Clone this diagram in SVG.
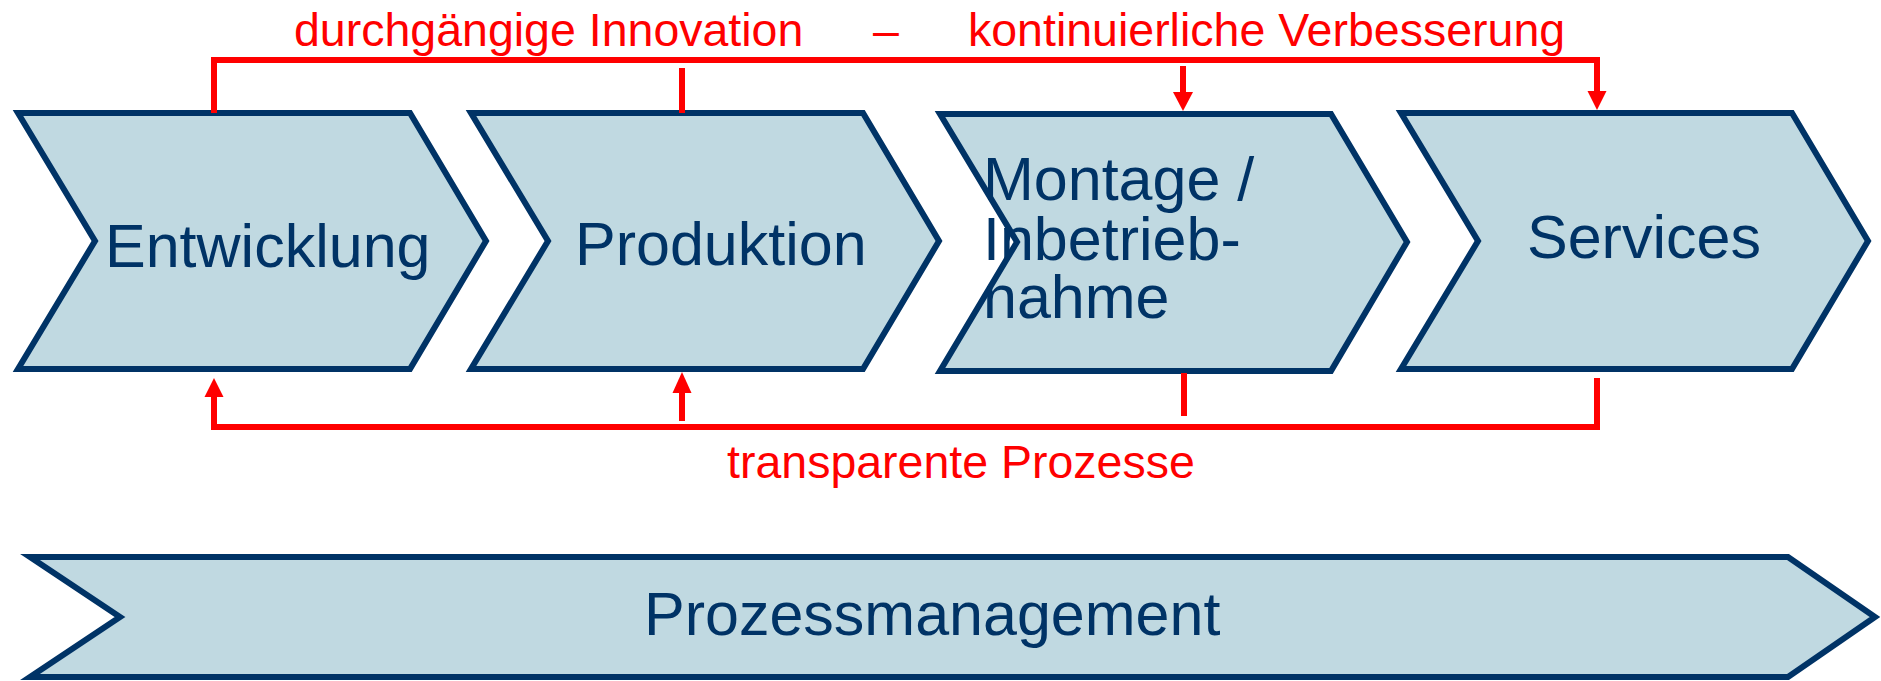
<svg xmlns="http://www.w3.org/2000/svg" width="1881" height="681" viewBox="0 0 1881 681">
<style>
.chev{fill:#c0d9e1;stroke:#003366;stroke-width:6;stroke-linejoin:miter}
.lbl{font-family:"Liberation Sans",Arial,sans-serif;font-size:61px;fill:#003366}
.red{font-family:"Liberation Sans",Arial,sans-serif;font-size:46.5px;fill:#ff0000}
.ln{fill:none;stroke:#ff0000;stroke-width:6;stroke-linecap:butt;stroke-linejoin:miter}
.ah{fill:#ff0000}
</style>
<rect width="1881" height="681" fill="#ffffff"/>
<g id="entwicklung">
<polygon class="chev" points="18,113 410,113 486,241 410,369 18,369 95,241"/>
<text class="lbl" x="105" y="267">Entwicklung</text>
</g>
<g id="produktion">
<polygon class="chev" points="471,113 863,113 939,241 863,369 471,369 548,241"/>
<text class="lbl" x="575" y="265">Produktion</text>
</g>
<g id="montage">
<polygon class="chev" points="940,114 1331,114 1407,242 1331,371 940,371 1017,242"/>
<text class="lbl" x="983" y="200">Montage /</text>
<text class="lbl" x="983" y="260">Inbetrieb-</text>
<text class="lbl" x="983" y="318">nahme</text>
</g>
<g id="services">
<polygon class="chev" points="1401,113 1792,113 1868,241 1792,369 1401,369 1478,241"/>
<text class="lbl" x="1527" y="258">Services</text>
</g>
<g id="prozessmanagement">
<polygon class="chev" points="30,557 1788,557 1875,617 1788,677 30,677 120,617"/>
<text class="lbl" x="644" y="635">Prozessmanagement</text>
</g>
<g id="labels">
<text class="red" x="294" y="46">durchgängige Innovation</text>
<text class="red" x="873" y="46">–</text>
<text class="red" x="968" y="46">kontinuierliche Verbesserung</text>
<text class="red" x="727" y="478">transparente Prozesse</text>
</g>
<g id="connectors">
<path class="ln" d="M214,113 V60 H1597 V93"/>
<polygon class="ah" points="1587.5,91 1606.5,91 1597,110"/>
<path class="ln" d="M682,68 V113"/>
<path class="ln" d="M1183,66 V94"/>
<polygon class="ah" points="1173,92 1193,92 1183,111"/>
<path class="ln" d="M1597,378 V427 H214 V395"/>
<polygon class="ah" points="204.5,397 223.5,397 214,378"/>
<path class="ln" d="M682,421 V391"/>
<polygon class="ah" points="672.5,393 691.5,393 682,372"/>
<path class="ln" d="M1184,373 V416"/>
</g>
</svg>
